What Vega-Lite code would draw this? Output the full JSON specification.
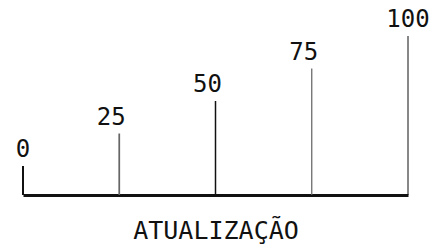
{
  "$schema": "https://vega.github.io/schema/vega-lite/v6.json",
  "width": 385,
  "height": 159,
  "autosize": {"type": "none"},
  "padding": {"left": 23, "top": 36, "right": 37, "bottom": 53},
  "background": "white",
  "config": {"view": {"stroke": null}},
  "data": {"values": [
    {"value": 0},
    {"value": 25},
    {"value": 50},
    {"value": 75},
    {"value": 100}
  ]},
  "encoding": {
    "x": {"field": "value", "type": "quantitative",
      "scale": {"domain": [0, 100], "nice": false, "zero": false},
      "axis": {"domain": true, "domainColor": "#111", "domainWidth": 3, "ticks": false, "labels": false, "grid": false,
        "title": "ATUALIZAÇÃO", "titleFont": "DejaVu Sans Mono", "titleFontSize": 25, "titleFontWeight": "normal",
        "titleColor": "#111", "titlePadding": 23}}
  },
  "layer": [
    {
      "mark": {"type": "rule"},
      "encoding": {
        "y": {"field": "value", "type": "quantitative",
          "scale": {"domain": [-22.3, 100], "nice": false, "zero": false}, "axis": null},
        "y2": {"datum": -22.3},
        "strokeWidth": {"field": "value", "type": "ordinal",
          "scale": {"domain": [0, 25, 50, 75, 100], "range": [2, 1, 2.5, 1, 3]}, "legend": null},
        "stroke": {"field": "value", "type": "ordinal",
          "scale": {"domain": [0, 25, 50, 75, 100], "range": ["#111", "#666", "#111", "#666", "#111"]}, "legend": null}
      }
    },
    {
      "transform": [{"filter": "datum.value == 0 || datum.value == 100"}],
      "mark": {"type": "text", "font": "DejaVu Sans Mono", "fontSize": 24, "color": "#111", "baseline": "alphabetic", "align": "center", "dy": -9, "clip": false},
      "encoding": {
        "y": {"field": "value", "type": "quantitative"},
        "text": {"field": "value", "type": "nominal"}
      }
    },
    {
      "transform": [{"filter": "datum.value > 0 && datum.value < 100"}],
      "mark": {"type": "text", "font": "DejaVu Sans Mono", "fontSize": 24, "color": "#111", "baseline": "alphabetic", "align": "center", "dy": -9, "dx": -8, "clip": false},
      "encoding": {
        "y": {"field": "value", "type": "quantitative"},
        "text": {"field": "value", "type": "nominal"}
      }
    }
  ]
}
